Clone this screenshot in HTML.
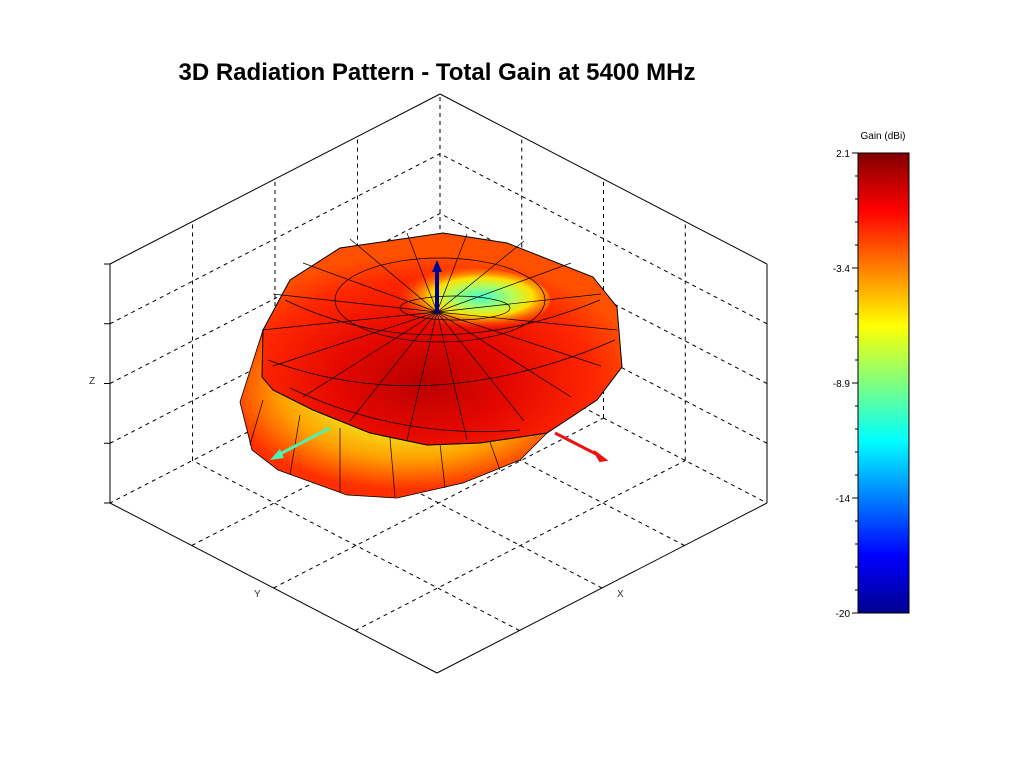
<!DOCTYPE html>
<html><head><meta charset="utf-8"><style>
body{margin:0;background:#fff;}
svg{display:block;font-family:"Liberation Sans",sans-serif;}
</style></head><body>
<svg width="1033" height="768" viewBox="0 0 1033 768" xmlns="http://www.w3.org/2000/svg">
<defs>
<linearGradient id="jet" x1="0" y1="1" x2="0" y2="0">
<stop offset="0" stop-color="#00008f"/><stop offset="0.125" stop-color="#0000ff"/>
<stop offset="0.375" stop-color="#00ffff"/><stop offset="0.625" stop-color="#ffff00"/>
<stop offset="0.875" stop-color="#ff0000"/><stop offset="1" stop-color="#800000"/>
</linearGradient>
<radialGradient id="lobe" cx="0.55" cy="0.35" r="0.6">
<stop offset="0" stop-color="#90f070"/><stop offset="0.35" stop-color="#f0f020"/>
<stop offset="0.7" stop-color="#ffa000"/><stop offset="1" stop-color="#ff3000"/>
</radialGradient>
<radialGradient id="body" cx="0.45" cy="0.7" r="0.6">
<stop offset="0" stop-color="#b80000"/><stop offset="0.4" stop-color="#e40800"/>
<stop offset="0.8" stop-color="#ff2800"/><stop offset="1" stop-color="#ff5000"/>
</radialGradient>
<radialGradient id="hole" cx="0.6" cy="0.45" r="0.5">
<stop offset="0" stop-color="#40ffd0"/><stop offset="0.35" stop-color="#b0ff60"/>
<stop offset="0.6" stop-color="#ffe000"/><stop offset="1" stop-color="#ff5000" stop-opacity="0"/>
</radialGradient>
</defs>
<text x="437" y="80" font-size="24" font-weight="bold" text-anchor="middle">3D Radiation Pattern - Total Gain at 5400 MHz</text>
<g stroke="#000" stroke-width="1" fill="none">
<g stroke-dasharray="4,4">
<line x1="519.5" y1="630.5" x2="192.5" y2="460.5"/><line x1="355.25" y1="630.5" x2="685.25" y2="460.5"/>
<line x1="602" y1="588" x2="275" y2="418"/><line x1="273.5" y1="588" x2="603.5" y2="418"/>
<line x1="684.5" y1="545.5" x2="357.5" y2="375.5"/><line x1="191.75" y1="545.5" x2="521.75" y2="375.5"/>
<line x1="192.5" y1="460.5" x2="192.5" y2="221.5"/><line x1="275" y1="418" x2="275" y2="179"/><line x1="357.5" y1="375.5" x2="357.5" y2="136.5"/>
<line x1="110" y1="443.25" x2="440" y2="273.25"/><line x1="110" y1="383.5" x2="440" y2="213.5"/><line x1="110" y1="323.75" x2="440" y2="153.75"/>
<line x1="685.25" y1="460.5" x2="685.25" y2="221.5"/><line x1="603.5" y1="418" x2="603.5" y2="179"/><line x1="521.75" y1="375.5" x2="521.75" y2="136.5"/>
<line x1="767" y1="443.25" x2="440" y2="273.25"/><line x1="767" y1="383.5" x2="440" y2="213.5"/><line x1="767" y1="323.75" x2="440" y2="153.75"/>
<line x1="440" y1="333" x2="440" y2="94"/><line x1="440" y1="333" x2="767" y2="503"/><line x1="440" y1="333" x2="110" y2="503"/>
</g>
<line x1="110" y1="264" x2="440" y2="94"/><line x1="767" y1="264" x2="440" y2="94"/>
<line x1="110" y1="503" x2="110" y2="264"/><line x1="767" y1="503" x2="767" y2="264"/>
<line x1="437" y1="673" x2="767" y2="503"/><line x1="437" y1="673" x2="110" y2="503"/>
<line x1="104" y1="264" x2="110" y2="264"/><line x1="104" y1="323.75" x2="110" y2="323.75"/><line x1="104" y1="383.5" x2="110" y2="383.5"/><line x1="104" y1="443.25" x2="110" y2="443.25"/><line x1="104" y1="503" x2="110" y2="503"/>
</g>
<!-- surface -->
<polygon fill="url(#lobe)" stroke="#000" stroke-width="0.8" points="263,330 240,402 252,450 278,470 347,495 397,498 463,483 520,460 547,433 480,443 427,445 370,433 313,410 273,390"/>
<polygon fill="url(#body)" stroke="#000" stroke-width="1" points="263,330 290,280 340,248 443,233 507,243 593,277 617,307 622,367 597,400 547,433 480,443 427,445 370,433 313,410 273,390 262,377"/>
<ellipse cx="465" cy="300" rx="85" ry="32" fill="url(#hole)"/>
<g stroke="#000" stroke-width="0.7" fill="none">
<ellipse cx="440" cy="300" rx="105" ry="42"/>
<ellipse cx="455" cy="308" rx="55" ry="12"/>
<path d="M268,360 Q430,420 615,340"/>
<path d="M285,300 Q430,370 600,300"/>
<path d="M290,388 Q400,440 520,430"/>
<line x1="437" y1="312" x2="262" y2="330"/><line x1="437" y1="312" x2="273" y2="294"/><line x1="437" y1="312" x2="303" y2="263"/>
<line x1="437" y1="312" x2="350" y2="239"/><line x1="437" y1="312" x2="407" y2="233"/><line x1="437" y1="312" x2="467" y2="234"/>
<line x1="437" y1="312" x2="524" y2="241"/><line x1="437" y1="312" x2="571" y2="263"/><line x1="437" y1="312" x2="601" y2="294"/>
<line x1="437" y1="312" x2="617" y2="330"/><line x1="437" y1="312" x2="601" y2="366"/><line x1="437" y1="312" x2="571" y2="397"/>
<line x1="437" y1="312" x2="524" y2="421"/><line x1="437" y1="312" x2="467" y2="440"/><line x1="437" y1="312" x2="407" y2="440"/>
<line x1="437" y1="312" x2="350" y2="421"/><line x1="437" y1="312" x2="303" y2="397"/><line x1="437" y1="312" x2="273" y2="366"/>
<line x1="263" y1="400" x2="250" y2="445"/><line x1="300" y1="415" x2="290" y2="475"/><line x1="340" y1="428" x2="340" y2="492"/>
<line x1="390" y1="438" x2="395" y2="497"/><line x1="440" y1="444" x2="445" y2="488"/><line x1="490" y1="442" x2="500" y2="470"/>
</g>
<!-- arrows -->
<line x1="437" y1="314" x2="437" y2="270" stroke="#00008f" stroke-width="4"/>
<polygon points="432,272 437,260 442,272" fill="#00008f"/>
<line x1="330" y1="428" x2="278" y2="455" stroke="#50f0b0" stroke-width="3"/>
<polygon points="270,460 280,449 284,458" fill="#50f0b0"/>
<line x1="555" y1="433" x2="598" y2="455" stroke="#ee1111" stroke-width="3"/>
<polygon points="606,460 594,451 600,461" fill="#ee1111" stroke="#ee1111" stroke-width="2"/>
<!-- labels -->
<text x="89" y="384" font-size="10" fill="#333">Z</text>
<text x="254" y="597" font-size="10" fill="#333">Y</text>
<text x="617" y="597" font-size="10" fill="#333">X</text>
<!-- colorbar -->
<text x="883" y="139" font-size="10" text-anchor="middle">Gain (dBi)</text>
<rect x="858" y="153" width="51" height="460" fill="url(#jet)" stroke="#000"/>
<g font-size="10" text-anchor="end">
<text x="850" y="157">2.1</text><text x="850" y="272">-3.4</text><text x="850" y="387">-8.9</text><text x="850" y="502">-14</text><text x="850" y="617">-20</text>
</g>
<g stroke="#000">
<line x1="852" y1="153" x2="858" y2="153"/><line x1="852" y1="268" x2="858" y2="268"/><line x1="852" y1="383" x2="858" y2="383"/><line x1="852" y1="498" x2="858" y2="498"/><line x1="852" y1="613" x2="858" y2="613"/>
<line x1="855" y1="176" x2="858" y2="176"/><line x1="855" y1="199" x2="858" y2="199"/><line x1="855" y1="222" x2="858" y2="222"/><line x1="855" y1="245" x2="858" y2="245"/>
<line x1="855" y1="291" x2="858" y2="291"/><line x1="855" y1="314" x2="858" y2="314"/><line x1="855" y1="337" x2="858" y2="337"/><line x1="855" y1="360" x2="858" y2="360"/>
<line x1="855" y1="406" x2="858" y2="406"/><line x1="855" y1="429" x2="858" y2="429"/><line x1="855" y1="452" x2="858" y2="452"/><line x1="855" y1="475" x2="858" y2="475"/>
<line x1="855" y1="521" x2="858" y2="521"/><line x1="855" y1="544" x2="858" y2="544"/><line x1="855" y1="567" x2="858" y2="567"/><line x1="855" y1="590" x2="858" y2="590"/>
</g>
</svg>
</body></html>
